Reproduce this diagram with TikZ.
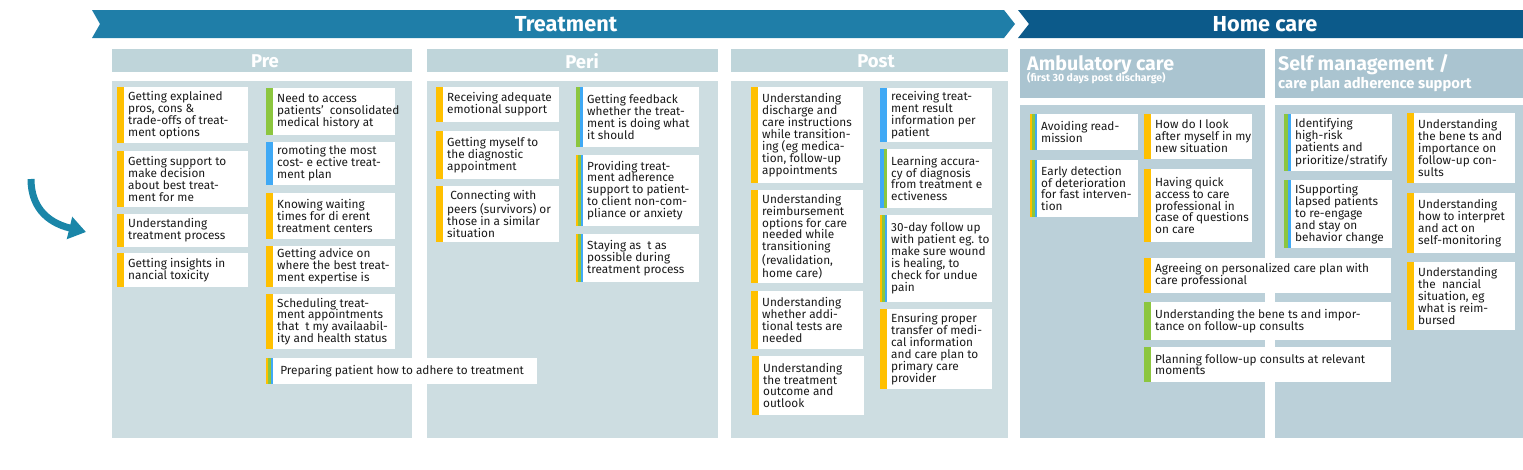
\documentclass[tikz,border=0pt]{standalone}
\usepackage{fontspec}
\setmainfont{Fira Sans}
\usetikzlibrary{arrows.meta}
\definecolor{treat}{HTML}{1F7EA8}
\definecolor{home}{HTML}{0C5A8A}
\definecolor{hdr}{HTML}{BFD5DA}
\definecolor{pnl}{HTML}{CDDDE1}
\definecolor{hdrB}{HTML}{AAC4D0}
\definecolor{pnlB}{HTML}{BBD0D9}
\definecolor{cy}{HTML}{FFC000}
\definecolor{cg}{HTML}{8CC63F}
\definecolor{cb}{HTML}{3FA9F5}
\definecolor{arr}{HTML}{1A86A8}
\definecolor{txt}{HTML}{1A1A1A}
\newcommand\crd[8]{%
  \fill[white] (#2,#3) rectangle (#4,#5);
  \pgfmathsetmacro\bw{7/#6}%
  \foreach \c [count=\i from 0] in {#7} {\fill[\c] ({#2+\i*\bw},#3) rectangle ({#2+(\i+1)*\bw},#5);}
  \node[cardtext,anchor=west] (#1) at (#2+11,{(#3+#5)/2}) {#8};
}
\begin{document}
\begin{tikzpicture}[x=1pt,y=-1pt,
  cardtext/.style={inner sep=0pt, align=left, font=\fontsize{11.8}{11.9}\selectfont, text=txt},
  bannertext/.style={text=white, font=\fontsize{21.7}{23}\selectfont\bfseries},
  phasetext/.style={text=white, font=\fontsize{18.5}{20}\selectfont\bfseries},
  hometext/.style={text=white, font=\fontsize{19.6}{22}\selectfont\bfseries, anchor=base west, inner sep=0pt}]
\useasboundingbox (0,0) rectangle (1523,469);
% banners
\fill[treat] (92,10) -- (1004,10) -- (1015,24) -- (1004,38) -- (92,38) -- (100,24) -- cycle;
\fill[home] (1018,10) -- (1523,10) -- (1523,38) -- (1018,38) -- (1029,24) -- cycle;
\node[bannertext] (tt) at (566,24) {Treatment};
\node[bannertext] (ht) at (1265,24) {Home care};
% phase headers
\fill[hdr] (112,49) rectangle (412,72);
\fill[hdr] (427,49) rectangle (718,72);
\fill[hdr] (731,49) rectangle (1008,72);
\fill[hdrB] (1020,49) rectangle (1265,98);
\fill[hdrB] (1275,49) rectangle (1523,98);
\node[phasetext] (hpre) at (265,61) {Pre};
\node[phasetext] (hperi) at (582,61) {Peri};
\node[phasetext] (hpost) at (876,61) {Post};
\node[hometext] (hamb) at (1027,70) {Ambulatory care};
\node[text=white,anchor=base west,inner sep=0pt,font=\fontsize{10.5}{11}\selectfont\bfseries] (hamb2) at (1027,81) {(first 30 days post discharge)};
\node[hometext] (hself) at (1278,70) {Self management /};
\node[text=white,anchor=base west,inner sep=0pt,font=\fontsize{14.8}{15}\selectfont\bfseries] (hself2) at (1278,88) {care plan adherence support};
% panels
\fill[pnl] (112,81) rectangle (412,438);
\fill[pnl] (427,81) rectangle (718,438);
\fill[pnl] (731,81) rectangle (1008,438);
\fill[pnlB] (1020,105) rectangle (1265,438);
\fill[pnlB] (1275,105) rectangle (1523,438);
% arrow
\coordinate (as) at (31,179);
\coordinate (ae) at (86,232);
\draw[arr, line width=7pt, -{Triangle[length=17pt,width=22pt]}] (as) .. controls (31,205) and (45,222) .. (ae);
% Pre
\crd{p1}{117}{87}{248}{143}{1}{cy}{Getting explained\\pros, cons \&\\trade-offs of treat-\\ment options}
\crd{p2}{117}{151}{248}{207}{1}{cy}{Getting support to\\make decision\\about best treat-\\ment for me}
\crd{p3}{117}{214}{248}{247}{1}{cy}{Understanding\\treatment process}
\crd{p4}{117}{253}{248}{287}{1}{cy}{Getting insights in\\nancial toxicity}
\crd{p5}{266}{88}{395}{135}{1}{cg}{Need to access\\patients’\ \ consolidated\\medical history at}
\crd{p6}{266}{142}{395}{185}{1}{cb}{romoting the most\\cost- e ective treat-\\ment plan}
\crd{p7}{266}{193}{395}{239}{1}{cy}{Knowing waiting\\times for di erent\\treatment centers}
\crd{p8}{266}{246}{395}{287}{1}{cy}{Getting advice on\\where the best treat-\\ment expertise is}
\crd{p9}{266}{294}{395}{349}{1}{cy}{Scheduling treat-\\ment appointments\\that\ \ t my availaabil-\\ity and health status}
\crd{p10}{266}{358}{537}{384}{3}{cy,cg,cb}{\ Preparing patient how to adhere to treatment}
% Peri
\crd{e1}{436}{87}{559}{122}{1}{cy}{Receiving adequate\\emotional support}
\crd{e2}{436}{131}{559}{179}{1}{cy}{Getting myself to\\the diagnostic\\appointment}
\crd{e3}{436}{186}{559}{242}{1}{cy}{\ Connecting with\\peers (survivors) or\\those in a similar\\situation}
\crd{e4}{576}{87}{699}{147}{2}{cg,cb}{Getting feedback\\whether the treat-\\ment is doing what\\it should}
\crd{e5}{576}{155}{699}{226}{3}{cy,cg,cb}{Providing treat-\\ment adherence\\support to patient-\\to client non-com-\\pliance or anxiety}
\crd{e6}{576}{234}{699}{282}{3}{cy,cg,cb}{Staying as\ \ t as\\possible during\\treatment process}
% Post
\crd{o1}{751}{87}{863}{183}{1}{cy}{Understanding\\discharge and\\care instructions\\while transition-\\ing (eg medica-\\tion, follow-up\\appointments}
\crd{o2}{751}{190}{863}{283}{1}{cy}{Understanding\\reimbursement\\options for care\\needed while\\transitioning\\(revalidation,\\home care)}
\crd{o3}{751}{291}{863}{349}{1}{cy}{Understanding\\whether addi-\\tional tests are\\needed}
\crd{o4}{752}{356}{864}{415}{1}{cy}{Understanding\\the treatment\\outcome and\\outlook}
\crd{o5}{880}{88}{992}{142}{1}{cb}{receiving treat-\\ment result\\information per\\patient}
\crd{o6}{880}{149}{992}{208}{2}{cb,cg}{Learning accura-\\cy of diagnosis\\from treatment e\\ectiveness}
\crd{o7}{880}{215}{992}{302}{3}{cy,cg,cb}{30-day follow up\\with patient eg. to\\make sure wound\\is healing, to\\check for undue\\pain}
\crd{o8}{880}{309}{992}{389}{1}{cy}{Ensuring proper\\transfer of medi-\\cal information\\and care plan to\\primary care\\provider}
% Ambulatory
\crd{a1}{1030}{114}{1138}{150}{3}{cy,cg,cb}{Avoiding read-\\mission}
\crd{a2}{1030}{160}{1138}{217}{3}{cy,cg,cb}{Early detection\\of deterioration\\for fast interven-\\tion}
\crd{a3}{1144}{114}{1252}{159}{1}{cy}{How do I look\\after myself in my\\new situation}
\crd{a4}{1144}{169}{1252}{242}{1}{cy}{Having quick\\access to care\\professional in\\case of questions\\on care}
\crd{w1}{1144}{258}{1391}{293}{1}{cy}{Agreeing on personalized care plan with\\care professional}
\crd{w2}{1144}{302}{1391}{340}{1}{cg}{Understanding the bene ts and impor-\\tance on follow-up consults}
\crd{w3}{1144}{347}{1391}{382}{1}{cg}{Planning follow-up consults at relevant\\moments}
% Self management
\crd{s1}{1284}{114}{1392}{171}{2}{cg,cb}{Identifying\\high-risk\\patients and\\prioritize/stratify}
\crd{s2}{1284}{180}{1392}{248}{2}{cg,cb}{ISupporting\\lapsed patients\\to re-engage\\and stay on\\behavior change}
\crd{s3}{1407}{113}{1515}{183}{1}{cy}{Understanding\\the bene ts and\\importance on\\follow-up con-\\sults}
\crd{s4}{1407}{193}{1515}{253}{1}{cy}{Understanding\\how to interpret\\and act on\\self-monitoring}
\crd{s5}{1407}{262}{1515}{330}{1}{cy}{Understanding\\the\ \ nancial\\situation, eg\\what is reim-\\bursed}
\end{tikzpicture}
\end{document}
